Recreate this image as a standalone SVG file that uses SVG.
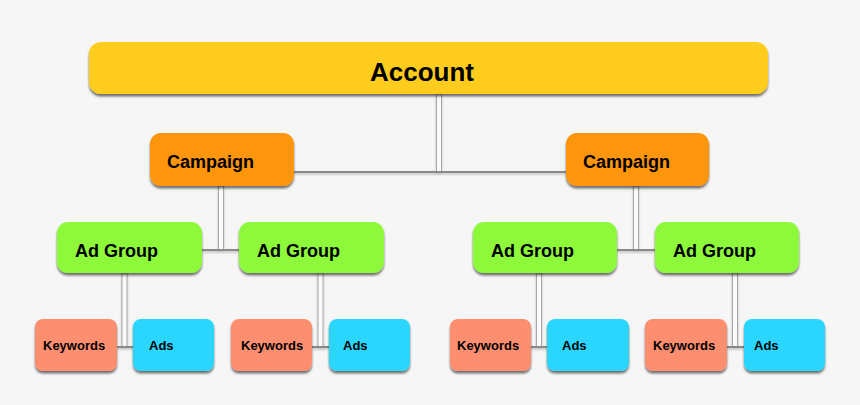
<svg xmlns="http://www.w3.org/2000/svg" width="860" height="405" viewBox="0 0 860 405">
<defs>
<filter id="sh" x="-10%" y="-20%" width="120%" height="150%">
<feDropShadow dx="0" dy="2.5" stdDeviation="1.3" flood-color="#000" flood-opacity="0.55"/>
</filter>
<filter id="lsh" x="-10%" y="-50%" width="120%" height="300%">
<feDropShadow dx="0" dy="1.5" stdDeviation="0.8" flood-color="#000" flood-opacity="0.25"/>
</filter>
</defs>
<style>
text{font-family:"Liberation Sans",Arial,Helvetica,sans-serif;font-weight:bold;fill:#000}
.acc{fill:#FECC1B}
.cmp{fill:#FE960C}
.ag{fill:#8EF83B}
.kw{fill:#FD8F6F}
.ad{fill:#2AD6FE}
.box{filter:url(#sh)}
.pipe{fill:#fafafa;stroke:#a8a8a8;stroke-width:1}
.hl{stroke:#8a8a8a;stroke-width:2;fill:none}
.t26{font-size:26px}
.t18{font-size:18px}
.t13{font-size:13px}
</style>
<rect width="860" height="405" fill="#f6f6f6"/>
<g id="connectors" filter="url(#lsh)">
<rect class="pipe" x="436.5" y="94" width="5" height="78"/>
<line class="hl" x1="294" y1="172" x2="566" y2="172"/>
<rect class="pipe" x="218.5" y="186" width="5" height="64"/>
<line class="hl" x1="202" y1="250" x2="239" y2="250"/>
<rect class="pipe" x="633.5" y="186" width="5" height="64"/>
<line class="hl" x1="617" y1="250" x2="655" y2="250"/>
<rect class="pipe" x="122" y="273" width="5" height="74"/>
<line class="hl" x1="117" y1="347" x2="133" y2="347"/>
<rect class="pipe" x="318" y="273" width="5" height="74"/>
<line class="hl" x1="312" y1="347" x2="329" y2="347"/>
<rect class="pipe" x="536.5" y="273" width="5" height="74"/>
<line class="hl" x1="531" y1="347" x2="547" y2="347"/>
<rect class="pipe" x="732.5" y="273" width="5" height="74"/>
<line class="hl" x1="727" y1="347" x2="744" y2="347"/>
</g>
<g id="account"><rect class="acc box" x="89" y="42" width="679" height="52" rx="12"/><text class="t26" x="370" y="81">Account</text></g>
<g id="campaign1"><rect class="cmp box" x="150" y="133" width="144" height="53" rx="11"/><text class="t18" x="167" y="168">Campaign</text></g>
<g id="campaign2"><rect class="cmp box" x="566" y="133" width="143" height="53" rx="11"/><text class="t18" x="583" y="168">Campaign</text></g>
<g id="adgroup1"><rect class="ag box" x="57" y="222" width="145" height="51" rx="11"/><text class="t18" x="75" y="257">Ad Group</text></g>
<g id="adgroup2"><rect class="ag box" x="239" y="222" width="145" height="51" rx="11"/><text class="t18" x="257" y="257">Ad Group</text></g>
<g id="adgroup3"><rect class="ag box" x="473" y="222" width="144" height="51" rx="11"/><text class="t18" x="491" y="257">Ad Group</text></g>
<g id="adgroup4"><rect class="ag box" x="655" y="222" width="144" height="51" rx="11"/><text class="t18" x="673" y="257">Ad Group</text></g>
<g id="keywords1"><rect class="kw box" x="35" y="319" width="82" height="52" rx="8"/><text class="t13" x="43" y="350">Keywords</text></g>
<g id="ads1"><rect class="ad box" x="133" y="319" width="81" height="52" rx="8"/><text class="t13" x="149" y="350">Ads</text></g>
<g id="keywords2"><rect class="kw box" x="231" y="319" width="81" height="52" rx="8"/><text class="t13" x="241" y="350">Keywords</text></g>
<g id="ads2"><rect class="ad box" x="329" y="319" width="81" height="52" rx="8"/><text class="t13" x="343" y="350">Ads</text></g>
<g id="keywords3"><rect class="kw box" x="450" y="319" width="81" height="52" rx="8"/><text class="t13" x="457" y="350">Keywords</text></g>
<g id="ads3"><rect class="ad box" x="547" y="319" width="82" height="52" rx="8"/><text class="t13" x="562" y="350">Ads</text></g>
<g id="keywords4"><rect class="kw box" x="645" y="319" width="82" height="52" rx="8"/><text class="t13" x="653" y="350">Keywords</text></g>
<g id="ads4"><rect class="ad box" x="744" y="319" width="81" height="52" rx="8"/><text class="t13" x="754" y="350">Ads</text></g>
</svg>
